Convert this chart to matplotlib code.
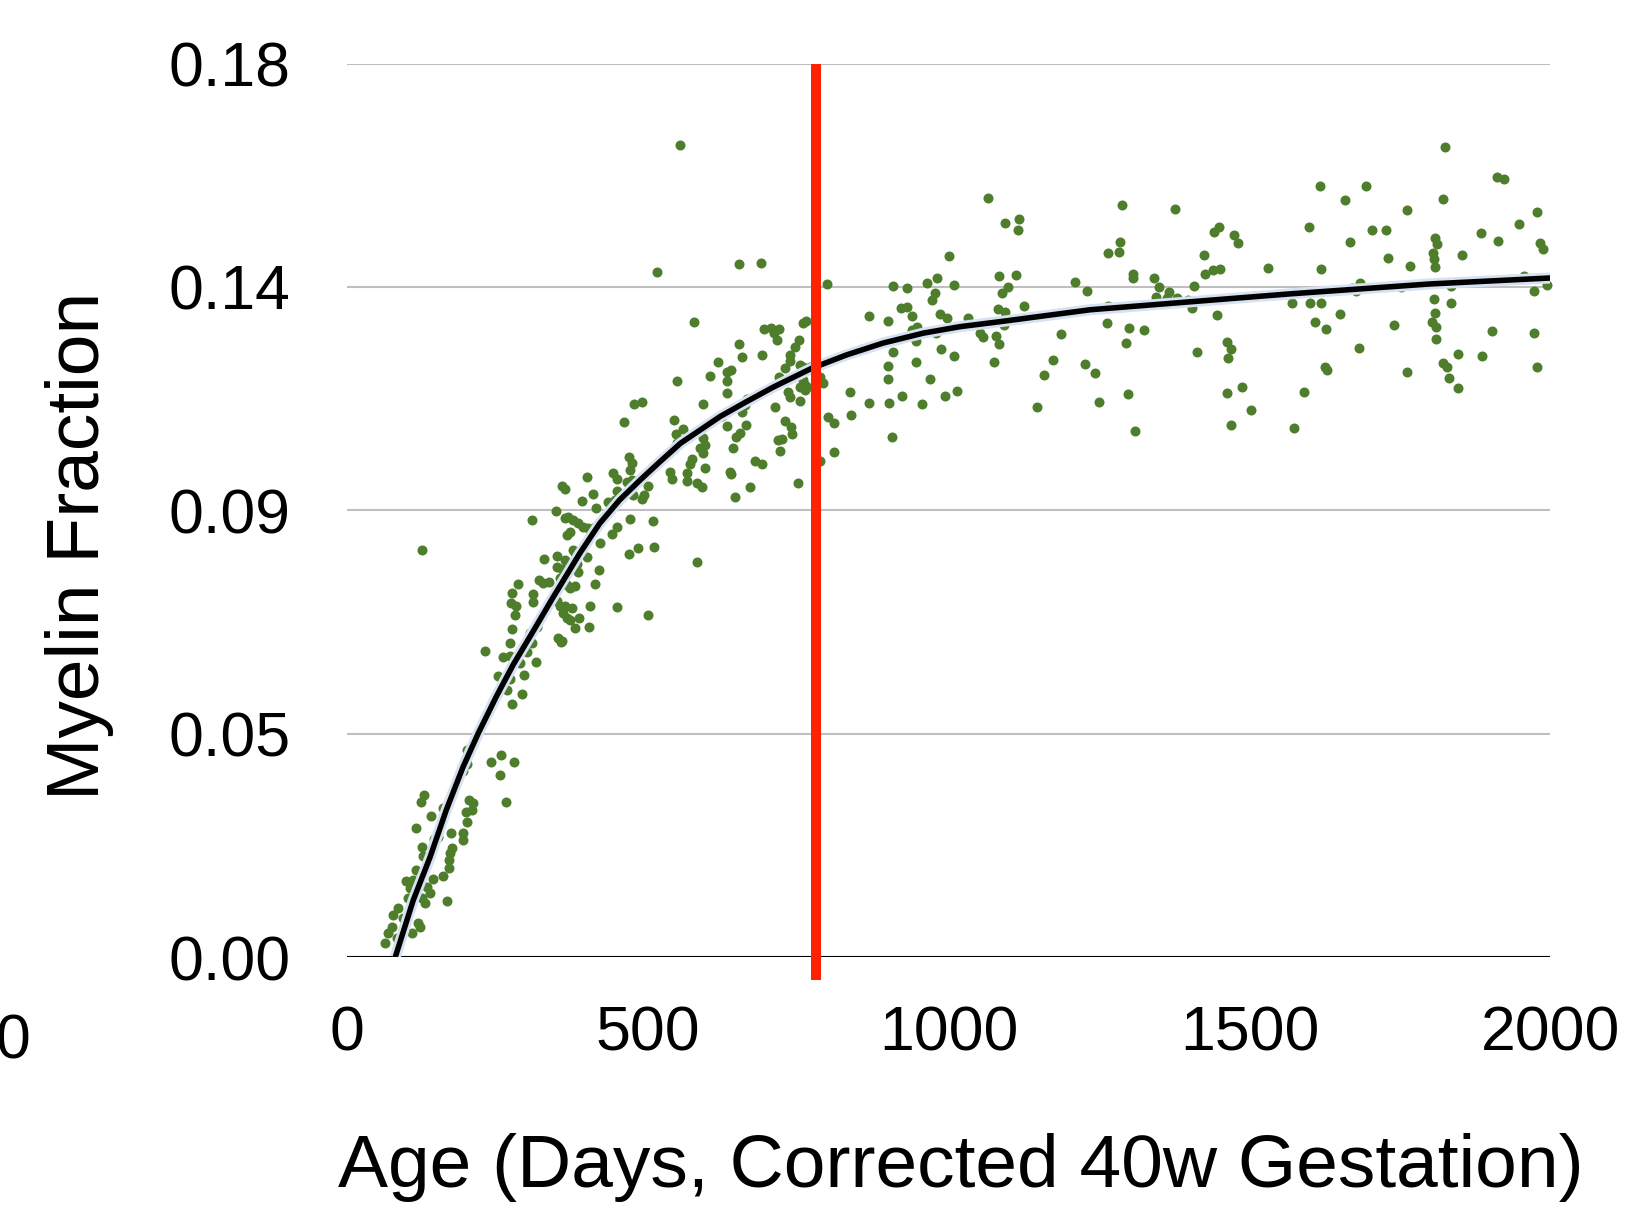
import matplotlib
matplotlib.use("Agg")
import matplotlib.pyplot as plt

plt.rcParams["font.family"] = ["Liberation Sans", "DejaVu Sans"]

# scatter (age in days, myelin fraction)
age_early = [229, 270, 308, 355, 259, 270, 299, 287, 314, 251,
             270, 294, 266, 291, 274, 199, 199, 193, 239, 256,
             277, 254, 264, 128, 123, 139, 159, 202, 209, 207,
             197, 199, 114, 173, 192, 192, 151, 144, 124, 126,
             174, 171, 169, 169, 159, 114, 126, 98, 109, 143,
             104, 133, 138, 129, 124, 166, 101, 84, 76, 93,
             118, 121, 74, 68, 108, 83, 63, 125]
myelin_early = [.0617, .0633, .0633, .0635, .0605, .0607, .0615, .0593, .0595, .0567,
                .0561, .0569, .0539, .0531, .0509, .0418, .0389, .0375, .0393, .0407,
                .0393, .0367, .0313, .0327, .0313, .0284, .0301, .0317, .0311, .0297,
                .0293, .0272, .0260, .0250, .0250, .0236, .0242, .0238, .0222, .0204,
                .0220, .0210, .0196, .0180, .0164, .0176, .0172, .0153, .0155, .0157,
                .0139, .0141, .0129, .0109, .0119, .0113, .0119, .0099, .0085, .0079,
                .0069, .0060, .0060, .0048, .0048, .0038, .0028, .0821]

age_rise = [460, 543, 558, 547, 548, 591, 595, 587, 591, 468,
            473, 573, 570, 595, 537, 540, 565, 565, 581, 590,
            442, 449, 470, 473, 465, 399, 357, 362, 500, 449,
            445, 434, 409, 390, 475, 490, 493, 414, 347, 307,
            362, 367, 375, 384, 392, 400, 412, 420, 470, 508,
            449, 440, 365, 370, 420, 510, 483, 468, 375, 379,
            399, 349, 327, 362, 357, 349, 382, 384, 419, 582,
            319, 325, 335, 354, 365, 370, 379, 412, 284, 274,
            272, 281, 309, 309, 349, 354, 362, 374, 359, 365,
            404, 449, 500, 279, 370, 385, 379, 402, 274, 316,
            304, 350, 357]
myelin_rise = [.1078, .1082, .1064, .1054, .1036, .1046, .1032, .1026, .1016, .1007,
               .0995, .1003, .0993, .0985, .0977, .0963, .0975, .0959, .0955, .0947,
               .0975, .0963, .0981, .0961, .0957, .0967, .0949, .0943, .0949, .0939,
               .0921, .0917, .0933, .0919, .0931, .0923, .0931, .0905, .0899, .0881,
               .0885, .0887, .0881, .0875, .0867, .0865, .0867, .0877, .0883, .0879,
               .0867, .0853, .0851, .0857, .0835, .0827, .0825, .0813, .0821, .0815,
               .0805, .0809, .0801, .0799, .0781, .0785, .0791, .0775, .0779, .0795,
               .0759, .0753, .0755, .0763, .0749, .0743, .0747, .0751, .0751, .0734,
               .0714, .0708, .0732, .0716, .0718, .0708, .0708, .0704, .0694, .0684,
               .0708, .0706, .0690, .0690, .0679, .0683, .0663, .0665, .0661, .0665,
               .0653, .0643, .0637]

age_knee = [515, 651, 688, 797, 577, 763, 758, 693, 704, 717,
            709, 715, 651, 751, 745, 656, 689, 616, 736, 736,
            728, 753, 758, 770, 631, 638, 603, 718, 631, 548,
            786, 791, 758, 761, 753, 761, 765, 631, 733, 736,
            753, 836, 665, 662, 656, 650, 591, 711, 477, 490,
            623, 837, 799, 809, 728, 738, 739, 631, 663, 716,
            722, 653, 646, 641, 720, 809, 678, 689, 786, 636,
            638, 749, 670, 644, 553]
myelin_knee = [.1380, .1396, .1398, .1356, .1280, .1282, .1278, .1266, .1268, .1266,
               .1257, .1243, .1235, .1243, .1229, .1209, .1213, .1199, .1213, .1201,
               .1187, .1193, .1189, .1189, .1179, .1183, .1171, .1169, .1161, .1161,
               .1169, .1157, .1163, .1153, .1149, .1143, .1149, .1137, .1139, .1129,
               .1121, .1139, .1125, .1112, .1098, .1108, .1114, .1108, .1114, .1118,
               .1090, .1092, .1088, .1076, .1080, .1068, .1054, .1070, .1072, .1042,
               .1044, .1056, .1048, .1026, .1020, .1018, .1000, .0994, .1000, .0977,
               .0973, .0955, .0947, .0927, .1636]

age_mid = [1065, 1093, 1117, 1115, 1000, 1083, 1112, 907, 931, 964,
           980, 977, 972, 1009, 1098, 1088, 1210, 1230, 921, 931,
           867, 899, 939, 986, 997, 1032, 1082, 1093, 1092, 1125,
           947, 939, 935, 946, 979, 1052, 1057, 1078, 1083, 1187,
           856, 907, 987, 1009, 1075, 945, 899, 899, 969, 1173,
           1158, 1226, 1243, 922, 994, 1014, 867, 900, 955, 1147,
           1250, 906]
myelin_mid = [.1529, .1479, .1487, .1465, .1412, .1372, .1374, .1352, .1348, .1358,
              .1368, .1338, .1324, .1354, .1350, .1338, .1360, .1342, .1307, .1309,
              .1291, .1281, .1291, .1295, .1287, .1287, .1305, .1299, .1273, .1312,
              .1270, .1264, .1254, .1242, .1258, .1258, .1250, .1252, .1236, .1256,
              .1225, .1219, .1225, .1211, .1199, .1199, .1191, .1165, .1165, .1203,
              .1173, .1195, .1177, .1130, .1130, .1140, .1116, .1116, .1114, .1108,
              .1118, .1048]

age_late = [1288, 1376, 1617, 1285, 1283, 1265, 1449, 1441, 1474, 1481,
            1599, 1424, 1306, 1306, 1341, 1426, 1439, 1451, 1530, 1619,
            1349, 1366, 1344, 1363, 1379, 1397, 1407, 1404, 1446, 1265,
            1263, 1300, 1325, 1295, 1413, 1463, 1469, 1464, 1570, 1600,
            1619, 1609, 1627, 1625, 1629, 1298, 1463, 1487, 1502, 1590,
            1310, 1469, 1573]
myelin_late = [.1516, .1507, .1554, .1440, .1420, .1418, .1471, .1461, .1455, .1438,
               .1471, .1414, .1376, .1368, .1368, .1376, .1384, .1386, .1388, .1386,
               .1350, .1340, .1330, .1328, .1328, .1324, .1352, .1308, .1294, .1311,
               .1277, .1267, .1263, .1237, .1219, .1239, .1225, .1207, .1317, .1317,
               .1317, .1279, .1265, .1189, .1183, .1134, .1136, .1148, .1102, .1138,
               .1060, .1072, .1066]

age_tail = [1825, 1911, 1923, 1694, 1658, 1822, 1762, 1978, 1948, 1703,
            1727, 1667, 1808, 1812, 1884, 1913, 1983, 1988, 1805, 1807,
            1808, 1853, 1730, 1767, 1956, 1684, 1670, 1677, 1752, 1835,
            1994, 1973, 1807, 1835, 1650, 1808, 1803, 1810, 1740, 1810,
            1903, 1973, 1682, 1847, 1887, 1822, 1828, 1762, 1978, 1831,
            1847]
myelin_tail = [.1632, .1571, .1567, .1553, .1525, .1527, .1505, .1501, .1477, .1465,
               .1465, .1440, .1448, .1436, .1459, .1442, .1438, .1426, .1418, .1406,
               .1390, .1414, .1408, .1392, .1372, .1358, .1348, .1342, .1350, .1352,
               .1354, .1342, .1326, .1317, .1295, .1297, .1279, .1269, .1273, .1245,
               .1261, .1257, .1227, .1215, .1211, .1197, .1189, .1179, .1189, .1167,
               .1147]

# fitted curve
fit_age = [80, 110, 138, 165, 193, 218, 248, 276, 309, 340,
           387, 420, 453, 487, 520, 554, 587, 620, 664, 708,
           772, 830, 891, 958, 1019, 1085, 1235, 1401, 1567, 1800,
           2000]
fit_myelin = [0.0, .0115, .0202, .0297, .0384, .0451, .0525, .0589, .0656, .0720,
              .0814, .0874, .0921, .0961, .0998, .1035, .1062, .1089, .1119, .1148,
              .1186, .1213, .1237, .1257, .1270, .1280, .1304, .1320, .1336, .1356,
              .1368]

cutoff_age = 779
x_ticks = [0, 500, 1000, 1500, 2000]
y_ticks = [0.0, 0.045, 0.09, 0.135, 0.18]
y_tick_labels = ["0.00", "0.05", "0.09", "0.14", "0.18"]

ages = age_early + age_rise + age_knee + age_mid + age_late + age_tail
myelin = myelin_early + myelin_rise + myelin_knee + myelin_mid + myelin_late + myelin_tail

fig = plt.figure(figsize=(16.35, 12.19), dpi=100)
ax = fig.add_axes([0.2123, 0.2148, 0.7360, 0.7331])

ax.scatter(ages, myelin, s=52, color="#4E7D2C", linewidths=0, zorder=2, clip_on=False)
ax.plot(fit_age, fit_myelin, color="#d6e1f1", linewidth=8, zorder=2.5,
        solid_capstyle="butt", solid_joinstyle="round")
ax.plot(fit_age, fit_myelin, color="black", linewidth=4, zorder=3, solid_joinstyle="round")
ax.plot([cutoff_age, cutoff_age], [-0.0046, 0.18], color="#FF2200", linewidth=7.2,
        solid_capstyle="butt", clip_on=False, zorder=4)

ax.set_xlim(0, 2000)
ax.set_ylim(0, 0.18)
ax.set_xticks(x_ticks)
ax.set_yticks(y_ticks)
ax.set_yticklabels(y_tick_labels)
ax.yaxis.grid(True, color="#bfbfbf", linewidth=1.5)
ax.set_axisbelow(True)
ax.axhline(0, color="black", linewidth=1.5, zorder=1.5)
for side in ["top", "right", "left", "bottom"]:
    ax.spines[side].set_visible(False)
ax.tick_params(axis="both", length=0, labelsize=45)
ax.tick_params(axis="y", pad=41)
ax.tick_params(axis="x", pad=34)

ax.set_xlabel("Age (Days, Corrected 40w Gestation)", fontsize=54)
ax.xaxis.set_label_coords(0.51, -0.235)
ax.xaxis.label.set_verticalalignment("center")
ax.set_ylabel("Myelin Fraction", fontsize=54)
ax.yaxis.set_label_coords(-0.222, 0.46)
ax.yaxis.label.set_verticalalignment("center")

# stray tick label at the far left of the original
fig.text(13 / 1635, 0.145, "0", fontsize=45, ha="center", va="center")

plt.savefig("out.png", dpi=100)
